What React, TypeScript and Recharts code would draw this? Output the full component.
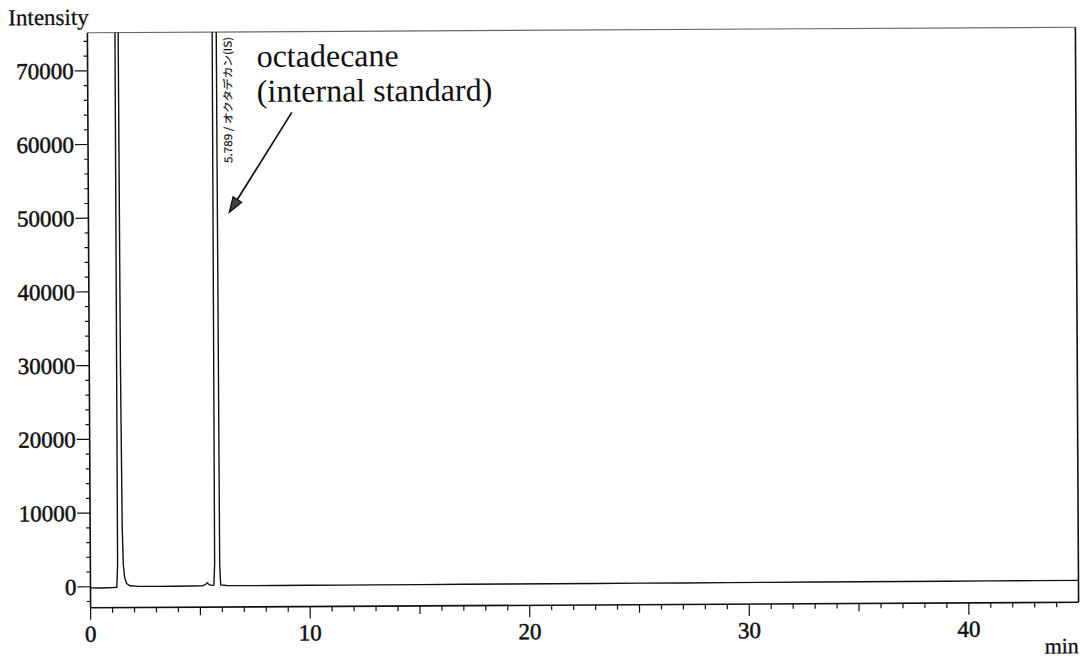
// GC chromatogram: octadecane internal standard (Recharts LineChart)
import React from "react";
import { LineChart, Line, XAxis, YAxis, ReferenceLine, ReferenceDot } from "recharts";

// retention time (min) and detector intensity
const times = [
  0, 0.4, 0.8, 1.0, 1.2, 1.24, 1.26, 1.33, 1.39, 1.42, 1.46, 1.5, 1.56, 1.65, 1.8,
  2.2, 3.0, 3.8, 4.6, 5.1, 5.25, 5.32, 5.4, 5.55, 5.62, 5.66, 5.69, 5.79, 5.86, 5.89,
  5.93, 6.2, 7.0, 8.5, 10.0, 11.5, 13, 15, 17, 19, 21, 23, 25, 27, 29, 31, 33, 35, 37,
  39, 41, 43, 45,
];
const intensity = [
  -150, -170, -140, -130, -90, 3000, 100000, 800000, 100000, 30000, 8000, 3000, 1200, 400, 100,
  20, 0, 10, 20, 40, 250, 450, 200, 100, 130, 3000, 100000, 900000, 100000, 3000,
  150, 60, 30, 20, 30, 30, 40, 40, 50, 50, 60, 60, 70, 70, 80, 80, 90, 90, 100,
  100, 110, 110, 120,
];

const xLabelTicks = [0, 10, 20, 30, 40];
const yLabelTicks = [0, 10000, 20000, 30000, 40000, 50000, 60000, 70000];
const xTicks = Array.from({ length: 45 }, (_, i) => i);
const yTicks = Array.from({ length: 39 }, (_, i) => -2000 + i * 2000);

const X_MAX = 45;
const Y_MIN = -2850;
const Y_MAX = 75160;

const peakLabel = "5.789 / オクタデカン(IS)";
const annotation = ["octadecane", "(internal standard)"];
// arrow from the note to the IS peak, in data units
const arrowFrom = { x: 9.29, y: 64200 };
const arrowTo = { x: 6.42, y: 50700 };
const peakLabelAt = { x: 6.56, y: 57400 };
const noteAt = { x: 7.7, y: 70400 };

const data = times.map((t, i) => ({ t, v: intensity[i] }));

const SERIF = "'Liberation Serif', 'Times New Roman', serif";
const INK = "#111";

function YTick({ x, y, payload }: any) {
  const v = payload.value;
  const major = yLabelTicks.includes(v);
  return (
    <g>
      <line x1={x - (major ? 13 : 4)} x2={x} y1={y} y2={y} stroke={INK} strokeWidth={1.2} />
      {major && (
        <text
          x={x - 14}
          y={y + 8}
          textAnchor="end"
          fontFamily={SERIF}
          fontSize={23}
          fill={INK}
          stroke={INK}
          strokeWidth={0.5}
        >
          {v}
        </text>
      )}
    </g>
  );
}

function XTick({ x, y, payload }: any) {
  const v = payload.value;
  const len = v % 10 === 0 ? 12 : v % 5 === 0 ? 8 : 5;
  return (
    <g>
      <line x1={x} x2={x} y1={y} y2={y + len} stroke={INK} strokeWidth={1.2} />
      {xLabelTicks.includes(v) && (
        <text
          x={x}
          y={y + 34}
          textAnchor="middle"
          fontFamily={SERIF}
          fontSize={23}
          fill={INK}
          stroke={INK}
          strokeWidth={0.5}
        >
          {v}
        </text>
      )}
    </g>
  );
}

function YTitle({ viewBox }: any) {
  return (
    <text
      x={viewBox.x + 10}
      y={viewBox.y - 8}
      fontFamily={SERIF}
      fontSize={23}
      fill={INK}
      stroke={INK}
      strokeWidth={0.3}
    >
      Intensity
    </text>
  );
}

function XTitle({ viewBox }: any) {
  return (
    <text
      x={viewBox.x + viewBox.width}
      y={viewBox.y + 51}
      textAnchor="end"
      fontFamily={SERIF}
      fontSize={22}
      fill={INK}
      stroke={INK}
      strokeWidth={0.3}
    >
      min
    </text>
  );
}

function Arrow({ x1, y1, x2, y2 }: any) {
  const dx = x2 - x1;
  const dy = y2 - y1;
  const len = Math.hypot(dx, dy);
  const ux = dx / len;
  const uy = dy / len;
  const head = 15;
  const half = 5;
  const bx = x2 - ux * head;
  const by = y2 - uy * head;
  const pts = `${x2},${y2} ${bx - uy * half},${by + ux * half} ${bx + uy * half},${by - ux * half}`;
  return (
    <g>
      <line x1={x1} y1={y1} x2={bx} y2={by} stroke={INK} strokeWidth={1.7} />
      <polygon points={pts} fill="#444" stroke={INK} strokeWidth={1.3} />
    </g>
  );
}

function PeakText({ cx, cy }: any) {
  return (
    <text
      x={cx}
      y={cy}
      transform={`rotate(-90, ${cx}, ${cy})`}
      fontFamily="'Noto Sans CJK JP', 'DejaVu Sans', sans-serif"
      fontSize={10.5}
      textLength={126}
      lengthAdjust="spacingAndGlyphs"
      fill={INK}
      stroke={INK}
      strokeWidth={0.2}
    >
      {peakLabel}
    </text>
  );
}

function NoteText({ cx, cy }: any) {
  return (
    <g fontFamily={SERIF} fontSize={32} fill={INK}>
      <text x={cx} y={cy}>
        {annotation[0]}
      </text>
      <text x={cx} y={cy + 35}>
        {annotation[1]}
      </text>
    </g>
  );
}

export default function App() {
  return (
    <div
      style={{
        position: "absolute",
        left: 0,
        top: 0,
        width: 1085,
        height: 668,
        background: "#fff",
        transform: "rotate(-0.32deg)",
        transformOrigin: "584px 318px",
      }}
    >
      <LineChart width={1085} height={668} data={data} margin={{ top: 30, right: 8, bottom: 13, left: 0 }}>
        <XAxis
          dataKey="t"
          type="number"
          domain={[0, X_MAX]}
          ticks={xTicks}
          interval={0}
          allowDataOverflow
          height={50}
          tickSize={0}
          tickMargin={0}
          tickLine={false}
          tick={<XTick />}
          axisLine={{ stroke: INK, strokeWidth: 1.6 }}
          label={<XTitle />}
        />
        <YAxis
          type="number"
          domain={[Y_MIN, Y_MAX]}
          ticks={yTicks}
          interval={0}
          allowDataOverflow
          width={89}
          tickSize={0}
          tickMargin={0}
          tickLine={false}
          tick={<YTick />}
          axisLine={{ stroke: INK, strokeWidth: 1.6 }}
          label={<YTitle />}
        />
        <ReferenceLine y={Y_MAX} stroke="#666" strokeWidth={1.2} />
        <ReferenceLine x={X_MAX} stroke={INK} strokeWidth={1.6} />
        <Line
          dataKey="v"
          type="linear"
          stroke={INK}
          strokeWidth={1.4}
          dot={false}
          isAnimationActive={false}
        />
        <ReferenceLine segment={[arrowFrom, arrowTo]} shape={<Arrow />} />
        <ReferenceDot x={peakLabelAt.x} y={peakLabelAt.y} shape={<PeakText />} />
        <ReferenceDot x={noteAt.x} y={noteAt.y} shape={<NoteText />} />
      </LineChart>
    </div>
  );
}
